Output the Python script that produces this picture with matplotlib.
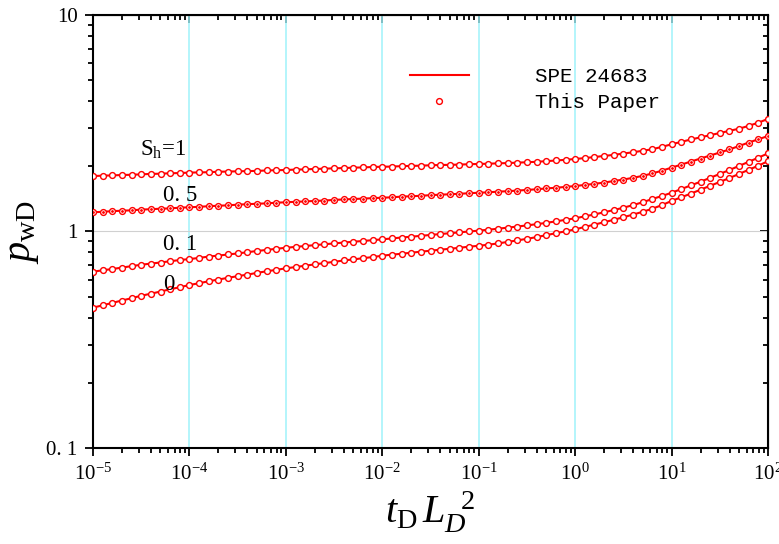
import numpy as np
import matplotlib
matplotlib.use("Agg")
import matplotlib.pyplot as plt
from matplotlib.lines import Line2D
from matplotlib.ticker import FixedLocator, FixedFormatter, LogLocator, NullFormatter

###########################
# Data (one value per marker, 10 per decade)
###########################

# dimensionless time t_D * L_D^2, markers every 0.1 decade from 1e-5 to 1e2
td = np.logspace(-5, 2, 71)

pwd_sh1 = [1.803, 1.811, 1.816, 1.824, 1.828, 1.837, 1.845, 1.849, 1.858, 1.862,
           1.871, 1.875, 1.879, 1.888, 1.892, 1.897, 1.901, 1.905, 1.914, 1.919,
           1.923, 1.932, 1.936, 1.945, 1.950, 1.959, 1.963, 1.972, 1.977, 1.986,
           1.991, 1.995, 2.004, 2.009, 2.014, 2.023, 2.028, 2.032, 2.037, 2.046,
           2.051, 2.056, 2.065, 2.070, 2.080, 2.089, 2.099, 2.113, 2.128, 2.143,
           2.163, 2.183, 2.208, 2.234, 2.259, 2.291, 2.323, 2.360, 2.399, 2.460,
           2.529, 2.594, 2.661, 2.723, 2.786, 2.851, 2.917, 2.985, 3.076, 3.184, 3.311]

pwd_sh05 = [1.227, 1.233, 1.242, 1.247, 1.253, 1.262, 1.268, 1.274, 1.279, 1.288,
            1.294, 1.300, 1.309, 1.315, 1.321, 1.330, 1.337, 1.343, 1.349, 1.358,
            1.365, 1.371, 1.377, 1.384, 1.390, 1.400, 1.406, 1.413, 1.419, 1.426,
            1.432, 1.439, 1.449, 1.455, 1.462, 1.472, 1.479, 1.486, 1.493, 1.503,
            1.510, 1.517, 1.528, 1.535, 1.545, 1.556, 1.567, 1.581, 1.592, 1.607,
            1.622, 1.641, 1.660, 1.683, 1.710, 1.738, 1.770, 1.807, 1.854, 1.910,
            1.972, 2.037, 2.104, 2.173, 2.244, 2.317, 2.393, 2.483, 2.576, 2.667, 2.761]

pwd_sh01 = [0.652, 0.662, 0.671, 0.681, 0.692, 0.702, 0.711, 0.719, 0.729, 0.738,
            0.746, 0.755, 0.766, 0.774, 0.783, 0.792, 0.802, 0.813, 0.822, 0.832,
            0.841, 0.849, 0.857, 0.865, 0.873, 0.881, 0.889, 0.897, 0.904, 0.912,
            0.920, 0.929, 0.938, 0.946, 0.955, 0.964, 0.973, 0.982, 0.991, 1.000,
            1.009, 1.019, 1.030, 1.042, 1.054, 1.067, 1.081, 1.096, 1.114, 1.132,
            1.151, 1.175, 1.199, 1.227, 1.256, 1.288, 1.324, 1.365, 1.413, 1.459,
            1.510, 1.570, 1.633, 1.698, 1.770, 1.845, 1.923, 2.009, 2.099, 2.193, 2.296]

pwd_sh0 = [0.445, 0.456, 0.468, 0.480, 0.492, 0.505, 0.516, 0.528, 0.541, 0.553,
           0.566, 0.577, 0.589, 0.600, 0.611, 0.622, 0.632, 0.644, 0.655, 0.665,
           0.676, 0.685, 0.695, 0.705, 0.715, 0.724, 0.735, 0.743, 0.753, 0.762,
           0.773, 0.782, 0.789, 0.798, 0.807, 0.815, 0.824, 0.832, 0.841, 0.851,
           0.859, 0.869, 0.881, 0.895, 0.910, 0.925, 0.942, 0.962, 0.982, 1.002,
           1.023, 1.050, 1.076, 1.104, 1.132, 1.164, 1.197, 1.233, 1.274, 1.324,
           1.384, 1.439, 1.496, 1.560, 1.626, 1.694, 1.766, 1.845, 1.928, 2.014, 2.113]

curve_labels = [r"$\mathrm{S_h}$=1", "0. 5", "0. 1", "0"]
label_x = [3.1e-5, 5.3e-5, 5.3e-5, 5.3e-5]
label_y = [2.38, 1.46, 0.875, 0.57]

legend_labels = ["SPE 24683", "This Paper"]

ytick_vals = [0.1, 1, 10]
ytick_text = ["0. 1", "1", "10"]
xtick_vals = [1e-5, 1e-4, 1e-3, 1e-2, 1e-1, 1e0, 1e1, 1e2]
xtick_text = [r"$10^{-5}$", r"$10^{-4}$", r"$10^{-3}$", r"$10^{-2}$",
              r"$10^{-1}$", r"$10^{0}$", r"$10^{1}$", r"$10^{2}$"]

###########################
# Style
###########################

plt.rcParams.update({
    "font.family": "Liberation Serif",
    "mathtext.fontset": "custom",
    "mathtext.rm": "Liberation Serif",
    "mathtext.it": "Liberation Serif:italic",
    "mathtext.bf": "Liberation Serif:bold",
})

RED = "#ff0000"
CYAN = "#9ff3fa"

fig = plt.figure(figsize=(7.79, 5.44), dpi=100)
ax = fig.add_axes([0.1194, 0.1765, 0.8665, 0.7959])

# curves: solid line plus hollow circle markers
for y in [pwd_sh1, pwd_sh05, pwd_sh01, pwd_sh0]:
    ax.plot(td, y, color=RED, lw=1.5, marker="o", ms=4.2, mfc="white",
            mec=RED, mew=1.0, zorder=3)
# the 0.5 curve has a dot in each circle
ax.plot(td, pwd_sh05, ls="none", marker="o", ms=1.0, color=RED, zorder=4)

ax.set_xscale("log")
ax.set_yscale("log")
ax.set_xlim(1e-5, 1e2)
ax.set_ylim(0.1, 10)

# grid: cyan verticals at decades, grey line at 1
ax.xaxis.set_major_locator(FixedLocator(xtick_vals))
ax.xaxis.set_major_formatter(FixedFormatter(xtick_text))
ax.xaxis.set_minor_locator(LogLocator(base=10, subs=np.arange(2, 10)))
ax.xaxis.set_minor_formatter(NullFormatter())
ax.yaxis.set_major_locator(FixedLocator(ytick_vals))
ax.yaxis.set_major_formatter(FixedFormatter(ytick_text))
ax.yaxis.set_minor_locator(LogLocator(base=10, subs=np.arange(2, 10)))
ax.yaxis.set_minor_formatter(NullFormatter())

ax.grid(True, which="major", axis="x", color=CYAN, lw=1.1, zorder=0)
ax.grid(True, which="major", axis="y", color="#d0d0d0", lw=0.8, zorder=0)
ax.set_axisbelow(True)

for s in ax.spines.values():
    s.set_linewidth(1.5)

ax.tick_params(which="both", direction="out", top=False, right=False,
               labelsize=15, width=1.3)
ax.tick_params(which="major", length=6, pad=5)
ax.tick_params(which="minor", length=3.5)

# inward ticks on top and right
ax_top = ax.secondary_xaxis("top")
ax_top.xaxis.set_major_locator(FixedLocator(xtick_vals))
ax_top.xaxis.set_minor_locator(LogLocator(base=10, subs=np.arange(2, 10)))
ax_top.tick_params(which="both", direction="in", labeltop=False, width=1.3)
ax_top.tick_params(which="major", length=6)
ax_top.tick_params(which="minor", length=3.5)
ax_right = ax.secondary_yaxis("right")
ax_right.yaxis.set_major_locator(FixedLocator(ytick_vals))
ax_right.yaxis.set_minor_locator(LogLocator(base=10, subs=np.arange(2, 10)))
ax_right.tick_params(which="both", direction="in", labelright=False, width=1.3)
ax_right.tick_params(which="major", length=6)
ax_right.tick_params(which="minor", length=3.5)

ax.set_xlabel(r"$t_{\mathrm{D}}\,L_D^{\ \ 2}$", fontsize=29, labelpad=4)
ax.set_ylabel(r"$p_{\mathrm{wD}}$", fontsize=29, labelpad=4)

# curve labels
for lab, lx, ly in zip(curve_labels, label_x, label_y):
    ax.text(lx, ly, lab, fontsize=16.5, ha="left", va="center")

# legend
handles = [Line2D([], [], color=RED, lw=1.5),
           Line2D([], [], ls="none", marker="o", ms=4.2, mfc="white", mec=RED, mew=1.0)]
ax.legend(handles, legend_labels, loc="upper left", bbox_to_anchor=(0.47, 0.88),
          frameon=False, prop={"family": "Liberation Mono", "size": 15},
          handlelength=2.8, handletextpad=3.2, labelspacing=0.35,
          borderpad=0, borderaxespad=0)

plt.savefig("out.png", dpi=100)
